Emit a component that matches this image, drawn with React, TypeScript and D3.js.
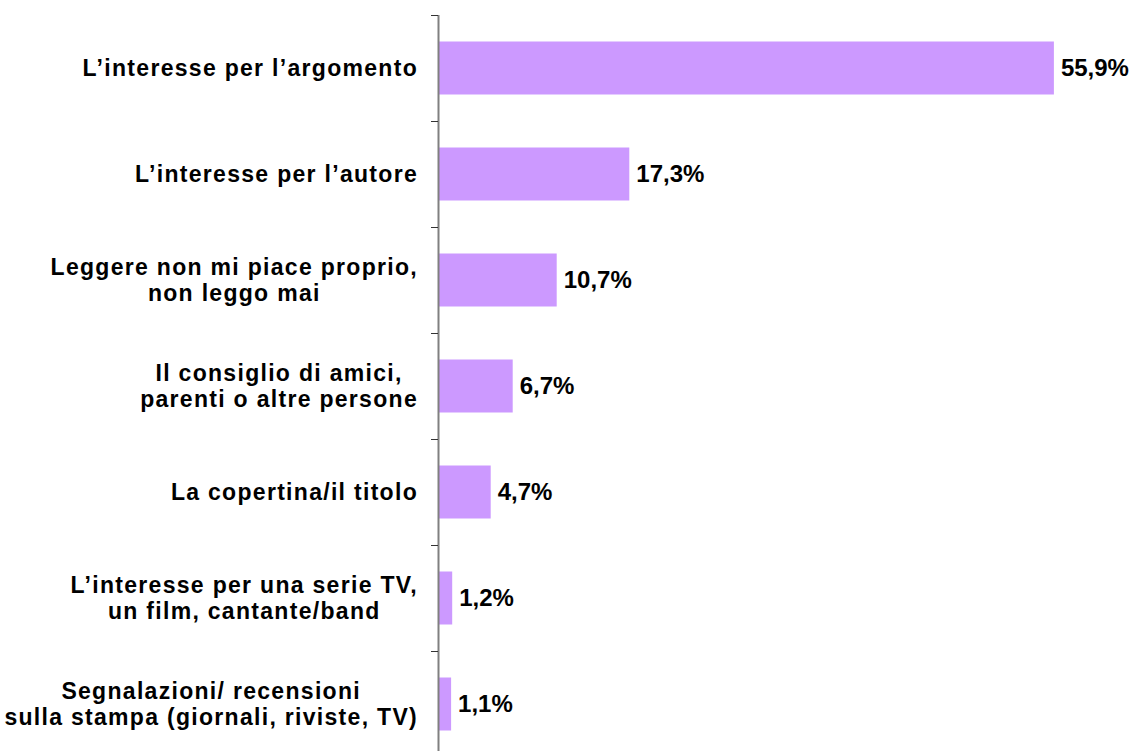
import React, { useEffect, useRef } from "react";
import * as d3 from "d3";

const categories = [
  ["L\u2019interesse per l\u2019argomento"],
  ["L\u2019interesse per l\u2019autore"],
  ["Leggere non mi piace proprio,", "non leggo mai"],
  ["Il consiglio di amici,", "parenti o altre persone"],
  ["La copertina/il titolo"],
  ["L\u2019interesse per una serie TV,", "un film, cantante/band"],
  ["Segnalazioni/ recensioni", "sulla stampa (giornali, riviste, TV)"],
];
const values = [55.9, 17.3, 10.7, 6.7, 4.7, 1.2, 1.1];
const valueLabels = ["55,9%", "17,3%", "10,7%", "6,7%", "4,7%", "1,2%", "1,1%"];

const FONT = "'Liberation Sans', Arial, sans-serif";

const App = () => {
  const ref = useRef<SVGSVGElement>(null);

  useEffect(() => {
    if (!ref.current) return;
    const width = 1133;
    const height = 751;
    const svg = d3.select(ref.current);
    svg.selectAll("*").remove();

    const keys = categories.map((d, i) => String(i));

    const x = d3.scaleLinear().domain([0, 60]).range([439, 1099]);
    const y = d3
      .scaleBand()
      .domain(keys)
      .range([15, 757])
      .paddingInner(0.5)
      .paddingOuter(0.25);

    const step = y.step();
    const offset = (step - y.bandwidth()) / 2;

    // bars
    svg
      .selectAll("rect.bar")
      .data(values)
      .enter()
      .append("rect")
      .attr("class", "bar")
      .attr("x", x(0))
      .attr("y", (d, i) => y(String(i)))
      .attr("width", (d) => x(d) - x(0))
      .attr("height", y.bandwidth())
      .attr("fill", "#CC99FF");

    // axis line
    svg
      .append("line")
      .attr("x1", x(0) - 0.5)
      .attr("x2", x(0) - 0.5)
      .attr("y1", 15)
      .attr("y2", height)
      .attr("stroke", "#808080")
      .attr("stroke-width", 2);

    // tick marks at band boundaries
    const tickYs = keys.map((k) => y(k) - offset).concat([y(keys[keys.length - 1]) - offset + step]);
    svg
      .selectAll("line.tick")
      .data(tickYs)
      .enter()
      .append("line")
      .attr("class", "tick")
      .attr("x1", x(0) - 8)
      .attr("x2", x(0) - 1)
      .attr("y1", (d) => Math.round(d) + 0.5)
      .attr("y2", (d) => Math.round(d) + 0.5)
      .attr("stroke", "#333")
      .attr("stroke-width", 1);

    // value labels
    svg
      .selectAll("text.value")
      .data(values)
      .enter()
      .append("text")
      .attr("class", "value")
      .attr("x", (d) => x(d) + 7)
      .attr("y", (d, i) => y(String(i)) + y.bandwidth() / 2)
      .attr("dy", "0.35em")
      .style("font-family", FONT)
      .style("font-weight", "bold")
      .style("font-size", "24px")
      .attr("fill", "#000")
      .text((d, i) => valueLabels[i]);

    // category labels: lines centred in a block right-aligned at 418
    const right = 418;
    const lineH = 26;
    categories.forEach((lines, i) => {
      const g = svg.append("g");
      const cy = y(String(i)) + y.bandwidth() / 2;
      const texts = lines.map((line, j) =>
        g
          .append("text")
          .attr("y", cy + (j - (lines.length - 1) / 2) * lineH)
          .attr("dy", "0.35em")
          .attr("text-anchor", "middle")
          .style("font-family", FONT)
          .style("font-weight", "bold")
          .style("font-size", "23px")
          .style("letter-spacing", "1.3px")
          .attr("fill", "#000")
          .text(line)
      );
      const maxW = d3.max(texts, (t) => (t.node() as SVGTextElement).getComputedTextLength()) || 0;
      texts.forEach((t) => t.attr("x", right - maxW / 2));
    });

    svg.attr("width", width).attr("height", height);
  }, []);

  return (
    <svg
      ref={ref}
      width={1133}
      height={751}
      style={{ position: "absolute", left: 0, top: 0, background: "#fff" }}
    />
  );
};

export default App;
